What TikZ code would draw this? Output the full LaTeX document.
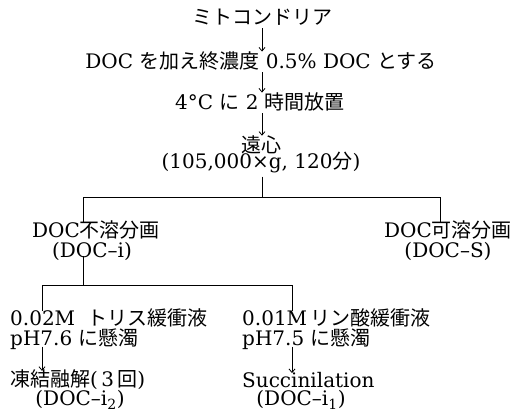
\documentclass[tikz,border=0pt]{standalone}
\usepackage{fontspec}
\setmainfont{DejaVu Serif}
\newfontfamily\jpfont{Noto Sans CJK JP}
\newcommand{\jj}[1]{{\jpfont #1}}
\usetikzlibrary{arrows.meta}
\begin{document}
\begin{tikzpicture}[x=1pt,y=-1pt,
  every node/.style={inner sep=0pt, font=\fontsize{20}{23}\selectfont},
  lbl/.style={anchor=center},
  lft/.style={anchor=west},
  conn/.style={line width=0.8pt},
  arr/.style={conn,-{Straight Barb[length=3.5pt,width=6pt]}}]
\useasboundingbox (0,0) rectangle (514,417);
% top chain
\node[lbl] (mito) at (262,17) {\jj{ミトコンドリア}};
\node[lbl] (doc)  at (261,61) {DOC \jj{を加え終濃度} 0.5\% DOC \jj{とする}};
\node[lbl] (cold) at (260,102) {4°C \jj{に} 2 \jj{時間放置}};
\node[lbl] (cent) at (261,145) {\jj{遠心}};
\node[lbl] (cond) at (261,163) {(105,000×g, 120\jj{分})};
\coordinate (ax) at (262,0);
\draw[arr] (mito.south -| ax) ++(0,3) -- (doc.north -| ax);
\draw[arr] (doc.south -| ax) ++(0,2) -- (cold.north -| ax);
\draw[arr] (cold.south -| ax) ++(0,2) -- (cent.north -| ax);
% first branch
\coordinate (j1) at (262,197);
\coordinate (l1) at (83,197);
\coordinate (r1) at (440,197);
\node[lbl] (ins)  at (96,230) {DOC\jj{不溶分画}};
\node[lbl] (insb) at (92,251) {(DOC–i)};
\node[lbl] (sol)  at (448,230) {DOC\jj{可溶分画}};
\node[lbl] (solb) at (448,251) {(DOC–S)};
\draw[conn] (cond.south -| j1) ++(0,3) -- (j1);
\draw[conn] (l1) -- (r1);
\draw[conn] (l1) -- ([yshift=-1pt]ins.north -| l1);
\draw[conn] (r1) -- ([yshift=-1pt]sol.north -| r1);
% second branch
\coordinate (l2) at (42,285);
\coordinate (r2) at (292,285);
\draw[conn] ([yshift=4pt]insb.south -| l1) -- (l1 |- l2);
\draw[conn] (l2) -- (r2);
\node[lft] (a1) at (10,318) {0.02M\hspace{0.6em}\jj{トリス緩衝液}};
\node[lft] (a2) at (10,339) {pH7.6 \jj{に懸濁}};
\node[lft] (a3) at (10,380) {\jj{凍結融解}(\,3\,\jj{回})};
\node[lbl] (a4) at (80,400) {(DOC–i\textsubscript{2})};
\node[lft] (b1) at (242,318) {0.01M\,\jj{リン酸緩衝液}};
\node[lft] (b2) at (242,339) {pH7.5 \jj{に懸濁}};
\node[lft] (b3) at (242,380) {Succinilation};
\node[lbl] (b4) at (301,400) {(DOC–i\textsubscript{1})};
\draw[conn] (l2) -- ([yshift=-2pt]a1.north -| l2);
\draw[conn] (r2) -- ([yshift=-2pt]b1.north -| r2);
\draw[arr] ([yshift=3pt]a2.south -| l2) -- ([yshift=-1pt]a3.north -| l2);
\draw[arr] ([yshift=3pt]b2.south -| r2) -- ([yshift=-1pt]b3.north -| r2);
\end{tikzpicture}
\end{document}
